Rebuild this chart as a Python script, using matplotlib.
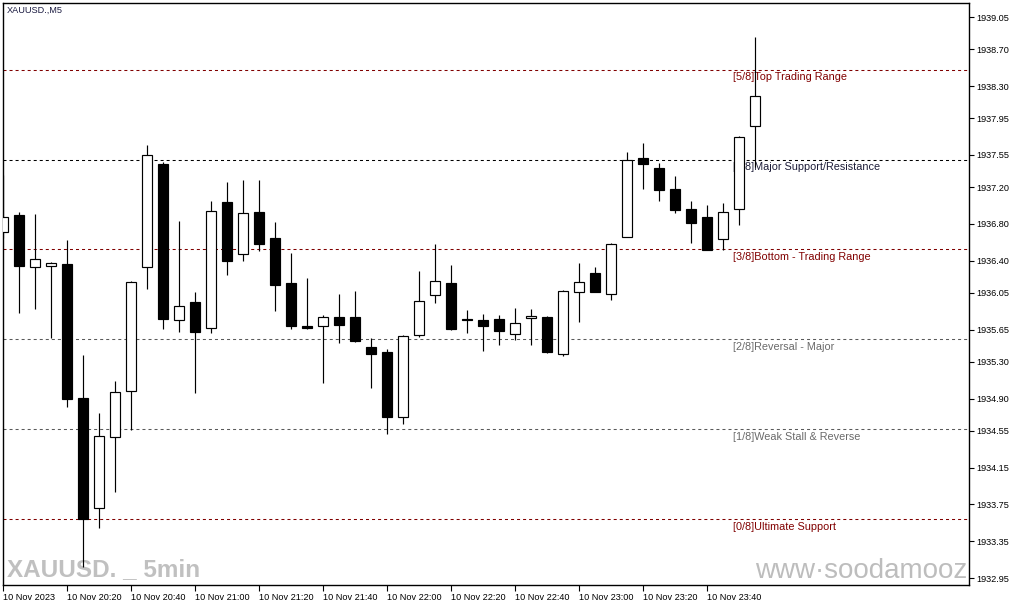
import matplotlib
matplotlib.use('Agg')
import matplotlib.pyplot as plt

# XAUUSD M5, 10 Nov 2023 from 20:00, one candle every 5 minutes
opens = [1936.71, 1936.90, 1936.33, 1936.34, 1936.36, 1934.91, 1933.71, 1934.48,
         1934.98, 1936.33, 1937.45, 1935.76, 1935.95, 1935.67, 1937.04, 1936.47,
         1936.93, 1936.65, 1936.16, 1935.69, 1935.69, 1935.79, 1935.79, 1935.46,
         1935.41, 1934.70, 1935.59, 1936.03, 1936.16, 1935.77, 1935.76, 1935.77,
         1935.60, 1935.78, 1935.79, 1935.39, 1936.06, 1936.27, 1936.04, 1936.66,
         1937.52, 1937.41, 1937.18, 1936.96, 1936.88, 1936.64, 1936.96, 1937.87]
highs = [1937.33, 1936.93, 1936.91, 1936.39, 1936.63, 1935.38, 1934.74, 1935.09,
         1936.18, 1937.66, 1937.47, 1936.83, 1936.06, 1937.05, 1937.26, 1937.28,
         1937.28, 1936.82, 1936.48, 1936.21, 1935.81, 1936.04, 1936.07, 1935.56,
         1935.44, 1935.59, 1936.29, 1936.58, 1936.35, 1935.86, 1935.82, 1935.81,
         1935.89, 1935.88, 1935.80, 1936.08, 1936.38, 1936.33, 1936.59, 1937.58,
         1937.68, 1937.46, 1937.32, 1937.05, 1937.01, 1937.03, 1937.76, 1938.83]
lows = [1936.65, 1935.83, 1935.88, 1935.56, 1934.81, 1933.07, 1933.49, 1933.89,
        1934.56, 1936.09, 1935.66, 1935.63, 1934.96, 1935.61, 1936.24, 1936.40,
        1936.51, 1935.85, 1935.66, 1935.66, 1935.07, 1935.51, 1935.52, 1935.02,
        1934.52, 1934.62, 1935.57, 1935.94, 1935.65, 1935.61, 1935.42, 1935.48,
        1935.54, 1935.48, 1935.40, 1935.36, 1935.73, 1936.06, 1935.97, 1936.66,
        1937.18, 1937.05, 1936.92, 1936.59, 1936.52, 1936.52, 1936.79, 1937.42]
closes = [1936.88, 1936.34, 1936.42, 1936.38, 1934.90, 1933.59, 1934.49, 1934.97,
          1936.17, 1937.55, 1935.77, 1935.91, 1935.63, 1936.94, 1936.40, 1936.92,
          1936.58, 1936.14, 1935.69, 1935.67, 1935.79, 1935.70, 1935.53, 1935.39,
          1934.70, 1935.58, 1935.96, 1936.18, 1935.66, 1935.76, 1935.69, 1935.64,
          1935.72, 1935.80, 1935.41, 1936.07, 1936.17, 1936.06, 1936.58, 1937.50,
          1937.45, 1937.17, 1936.95, 1936.81, 1936.52, 1936.93, 1937.75, 1938.19]

time_labels = ['10 Nov 2023', '10 Nov 20:20', '10 Nov 20:40', '10 Nov 21:00',
               '10 Nov 21:20', '10 Nov 21:40', '10 Nov 22:00', '10 Nov 22:20',
               '10 Nov 22:40', '10 Nov 23:00', '10 Nov 23:20', '10 Nov 23:40']
price_ticks = [1939.05, 1938.70, 1938.30, 1937.95, 1937.55, 1937.20, 1936.80,
               1936.40, 1936.05, 1935.65, 1935.30, 1934.90, 1934.55, 1934.15,
               1933.75, 1933.35, 1932.95]

# murrey math levels
level_names = ['[0/8]Ultimate Support', '[1/8]Weak Stall & Reverse',
               '[2/8]Reversal - Major', '[3/8]Bottom - Trading Range',
               '[4/8]Major Support/Resistance', '[5/8]Top Trading Range']
level_prices = [1933.594, 1934.570, 1935.547, 1936.523, 1937.500, 1938.477]
level_colors = ['#800000', '#5a5a5a', '#5a5a5a', '#800000', '#000000', '#800000']
label_colors = ['#800000', '#6a6a6a', '#6a6a6a', '#800000', '#1c1c38', '#800000']

W, H = 1015, 605
fig = plt.figure(figsize=(W / 100, H / 100), dpi=100)
ax = fig.add_axes([2.5 / W, 20 / H, 966.5 / W, 582.5 / H])

tick_font = ['Liberation Sans', 'DejaVu Sans']

x = list(range(len(opens)))

# levels
for p, name, lc, tc in zip(level_prices, level_names, level_colors, label_colors):
    ax.axhline(p, color=lc, lw=0.75, dashes=(2.9, 2.9), zorder=1)
    ax.text(45.6, p - 0.03, name, color=tc, fontsize=7.8, family=tick_font,
            va='top', ha='left', zorder=2)

# candles
ax.vlines(x, lows, highs, colors='black', linewidth=0.85, zorder=3)
up = [i for i in x if closes[i] >= opens[i]]
dn = [i for i in x if closes[i] < opens[i]]
ax.bar(up, [max(closes[i] - opens[i], 0.004) for i in up],
       bottom=[opens[i] for i in up], width=0.64,
       facecolor='white', edgecolor='black', linewidth=0.85, zorder=4)
ax.bar(dn, [max(opens[i] - closes[i], 0.004) for i in dn],
       bottom=[closes[i] for i in dn], width=0.64,
       facecolor='black', edgecolor='black', linewidth=0.85, zorder=4)

ax.set_xlim(-0.05, 60.36)
ax.set_ylim(1932.874, 1939.208)

ax.set_xticks(range(0, len(opens), 4))
ax.set_xticklabels(time_labels, fontsize=6.6, family=tick_font)
for lab in ax.get_xticklabels():
    lab.set_horizontalalignment('left')
ax.tick_params(axis='x', direction='out', length=4, width=0.8, pad=1.5)

ax.yaxis.tick_right()
ax.set_yticks(price_ticks)
ax.set_yticklabels(['%.2f' % v for v in price_ticks], fontsize=6.6, family=tick_font)
ax.tick_params(axis='y', direction='out', length=3.5, width=0.8, pad=2)

for s in ax.spines.values():
    s.set_linewidth(1.0)

ax.text(4.5 / 966.5, 1 - 8 / 582.5, 'XAUUSD.,M5', transform=ax.transAxes,
        fontsize=6.6, family=tick_font, color='#1a1a40', va='center', ha='left')

ax.text(4.5 / 966.5, 9 / 582.5, 'XAUUSD. _ 5min', transform=ax.transAxes,
        fontsize=17.5, fontweight='bold', color='#c0c0c0',
        family=['Liberation Sans Narrow', 'Liberation Sans', 'DejaVu Sans'],
        va='baseline', ha='left', zorder=0)
ax.text(752.5 / 966.5, 7 / 582.5, 'www·soodamooz.com', transform=ax.transAxes,
        fontsize=20, color='#bdbdbd', family=tick_font,
        va='baseline', ha='left', zorder=0, clip_on=True)

fig.savefig('out.png', dpi=100)
